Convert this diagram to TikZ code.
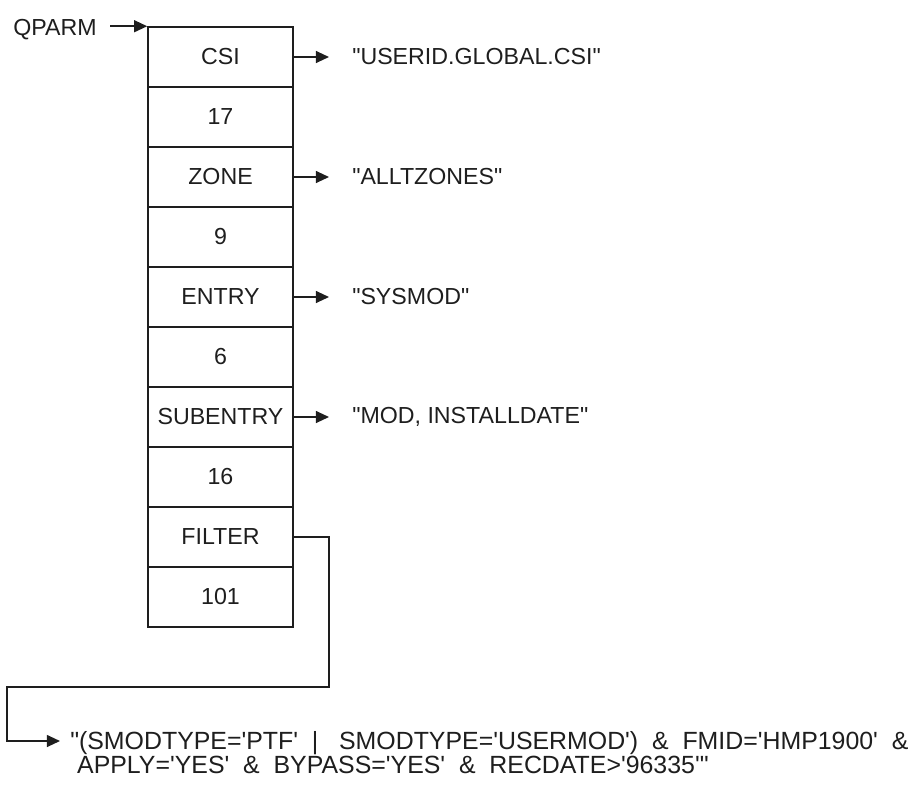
\documentclass[tikz,border=0pt]{standalone}
\usepackage{fontspec}
\setmainfont{Liberation Sans}[Ligatures=TeXOff]
\usetikzlibrary{arrows.meta, positioning}
\definecolor{qink}{RGB}{30, 30, 30}

\begin{document}
\begin{tikzpicture}[
  cell/.style={rectangle, draw=qink, line width=1.1pt, minimum width=3.625cm,
               minimum height=1.5cm, inner sep=0pt, text=qink,
               font=\fontsize{16.5}{17}\selectfont},
  val/.style={anchor=west, inner sep=0pt, text=qink,
              font=\fontsize{16.5}{17}\selectfont},
  arr/.style={-{Triangle[length=0.33cm, width=0.3cm]}, line width=1.1pt, qink}
]
\useasboundingbox (0,0) rectangle (22.9,-19.6);
% Parameter list
\node[cell] (csi)    at (5.5125,-1.425)  {CSI};
\node[cell] (csilen) at (5.5125,-2.925)  {17};
\node[cell] (zone)   at (5.5125,-4.425)  {ZONE};
\node[cell] (zonelen) at (5.5125,-5.925) {9};
\node[cell] (entry)  at (5.5125,-7.425)  {ENTRY};
\node[cell] (entrylen) at (5.5125,-8.925) {6};
\node[cell] (subent) at (5.5125,-10.425) {SUBENTRY};
\node[cell] (subentlen) at (5.5125,-11.925) {16};
\node[cell] (filter) at (5.5125,-13.425) {FILTER};
\node[cell] (filterlen) at (5.5125,-14.925) {101};

% Pointer label
\node[val, anchor=east] (qparm) at (2.425,-0.75) {QPARM};
\draw[arr, shorten <=0.325cm] (qparm.east |- csi.north west) -- (csi.north west);

% Values
\node[val] (csival)    at (8.8,-1.425)  {"USERID.GLOBAL.CSI"};
\node[val] (zoneval)   at (8.8,-4.425)  {"ALLTZONES"};
\node[val] (entryval)  at (8.8,-7.425)  {"SYSMOD"};
\node[val] (subentval) at (8.8,-10.425) {"MOD, INSTALLDATE"};
\node[val, align=left, anchor=north west, font=\fontsize{17.7}{17}\selectfont]
  (filterval) at (1.75,-18.28)
  {"(SMODTYPE='PTF'\ \ |\ \ \ SMODTYPE='USERMOD')\ \ \&\ \ FMID='HMP1900'\ \ \&\\
   \ APPLY='YES'\ \ \&\ \ BYPASS='YES'\ \ \&\ \ RECDATE>'96335'"};

\draw[arr, shorten >=0.575cm] (csi.east) -- (csival.west);
\draw[arr, shorten >=0.575cm] (zone.east) -- (zoneval.west);
\draw[arr, shorten >=0.575cm] (entry.east) -- (entryval.west);
\draw[arr, shorten >=0.575cm] (subent.east) -- (subentval.west);

% Filter leads round the list
\coordinate (fbend) at (8.225,-17.175);
\coordinate (fdrop) at (0.175,-18.525);
\draw[arr] (filter.east) -| (fbend) -| (fdrop) -- ++(1.325,0);
\end{tikzpicture}
\end{document}
